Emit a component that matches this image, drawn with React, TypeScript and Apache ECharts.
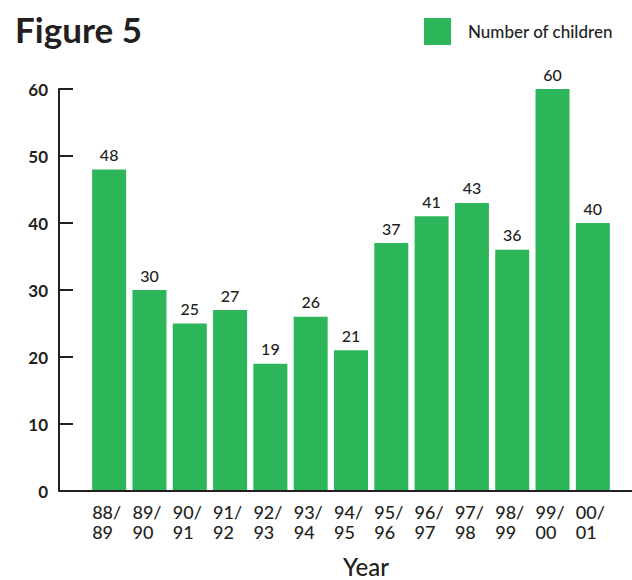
import React, { useEffect, useRef } from "react";
import * as echarts from "echarts";

const categories = ["88/\n89", "89/\n90", "90/\n91", "91/\n92", "92/\n93", "93/\n94", "94/\n95", "95/\n96", "96/\n97", "97/\n98", "98/\n99", "99/\n00", "00/\n01"];
const children = [48, 30, 25, 27, 19, 26, 21, 37, 41, 43, 36, 60, 40];
const seriesName = "Number of children";
const titleText = "Figure 5";
const xName = "Year";

const FONT = "Lato, 'Open Sans', sans-serif";
const INK = "#231f20";
const GREEN = "#2db55a";

export default function App() {
  const ref = useRef<HTMLDivElement>(null);
  useEffect(() => {
    const chart = echarts.init(ref.current!, null, { renderer: "svg" });
    chart.setOption({
      animation: false,
      backgroundColor: "#fff",
      title: {
        text: titleText,
        left: 10,
        top: 6,
        textStyle: { fontFamily: FONT, fontSize: 35, fontWeight: "bold", color: INK },
      },
      legend: {
        data: [seriesName],
        left: 419,
        top: 13,
        itemWidth: 27,
        itemHeight: 27,
        icon: "rect",
        textStyle: { fontFamily: FONT, fontSize: 17, fontWeight: 500, color: INK, padding: [0, 0, 0, 12] },
      },
      grid: { left: 89, right: 19, top: 89, bottom: 89, containLabel: false, outerBoundsMode: "none" },
      xAxis: {
        type: "category",
        data: categories,
        axisLine: { show: false },
        axisTick: { show: false },
        axisLabel: {
          interval: 0,
          margin: 11,
          formatter: (v: string) => v.split("\n").map((s) => `{a|${s}}`).join("\n"),
          rich: {
            a: { width: 34, align: "left", fontFamily: FONT, fontSize: 18, fontWeight: 500, color: INK, lineHeight: 20 },
          },
        },
        name: xName,
        nameLocation: "middle",
        nameGap: 63,
        nameMoveOverlap: false,
        nameTextStyle: { fontFamily: FONT, fontSize: 24, fontWeight: 500, color: INK, padding: [0, 0, 0, 30] },
      },
      yAxis: {
        type: "value",
        min: 0,
        max: 60,
        interval: 10,
        offset: 30,
        splitLine: { show: false },
        axisLine: { show: true, lineStyle: { color: INK, width: 2 } },
        axisTick: { show: true, inside: true, length: 14, lineStyle: { color: INK, width: 2 } },
        axisLabel: { margin: 11, fontFamily: FONT, fontSize: 17, fontWeight: "bold", color: INK },
      },
      graphic: [
        {
          type: "line",
          shape: { x1: 59, y1: 491, x2: 632, y2: 491 },
          style: { stroke: INK, lineWidth: 2 },
          z: 10,
        },
      ],
      series: [
        {
          name: seriesName,
          type: "bar",
          data: children,
          barWidth: 34,
          itemStyle: { color: GREEN },
          label: {
            show: true,
            position: "top",
            distance: 7,
            fontFamily: FONT,
            fontSize: 16,
            fontWeight: 500,
            color: INK,
          },
        },
      ],
    });
    return () => chart.dispose();
  }, []);
  return <div ref={ref} style={{ width: 632, height: 580, position: "absolute", left: 0, top: 0 }} />;
}
